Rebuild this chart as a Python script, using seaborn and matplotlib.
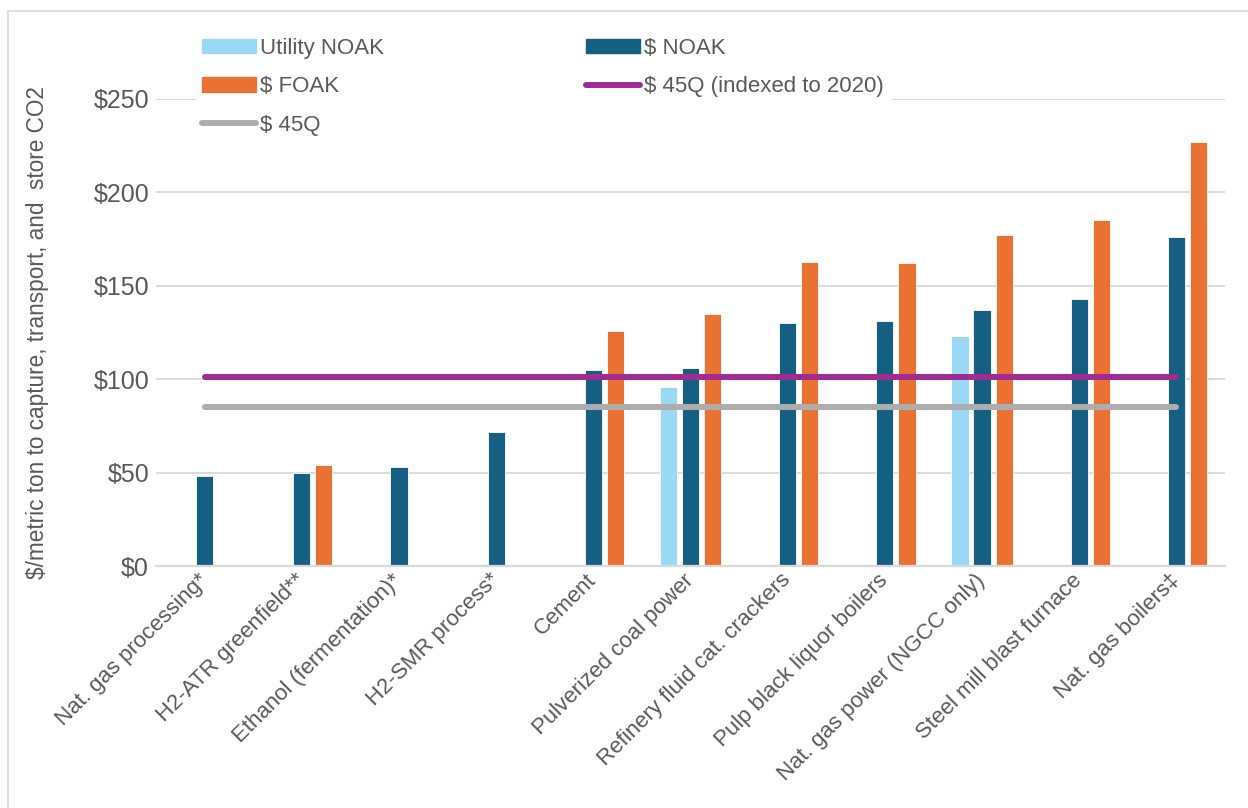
import numpy as np
import pandas as pd
import seaborn as sns
from matplotlib import pyplot as plt
from matplotlib.patches import Patch
from matplotlib.lines import Line2D

# --- data ---
categories = ["Nat. gas processing*", "H2-ATR greenfield**", "Ethanol (fermentation)*",
              "H2-SMR process*", "Cement", "Pulverized coal power",
              "Refinery fluid cat. crackers", "Pulp black liquor boilers",
              "Nat. gas power (NGCC only)", "Steel mill blast furnace", "Nat. gas boilers\u2021"]
utility_noak = [np.nan, np.nan, np.nan, np.nan, np.nan, 96, np.nan, np.nan, 123, np.nan, np.nan]
noak = [48, 50, 53, 72, 105, 106, 130, 131, 137, 143, 176]
foak = [np.nan, 54, np.nan, np.nan, 126, 135, 163, 162, 177, 185, 227]
q45 = 85
q45_indexed = 101

series = ["Utility NOAK", "$ NOAK", "$ FOAK"]
colors = {"Utility NOAK": "#99D9F5", "$ NOAK": "#156082", "$ FOAK": "#E97132"}
PURPLE = "#A02B93"
GREY = "#ADADAD"
TEXT = "#595959"
GRID = "#D9D9D9"

df = pd.DataFrame({"category": categories,
                   "Utility NOAK": utility_noak,
                   "$ NOAK": noak,
                   "$ FOAK": foak})
long_df = df.melt(id_vars="category", var_name="series", value_name="cost")

sns.set_theme(style="white")
plt.rcParams["font.family"] = ["Liberation Sans", "DejaVu Sans"]

fig = plt.figure(figsize=(12.48, 8.08), dpi=100)
ax = fig.add_axes([0.125, 0.2995, 0.8566, 0.578])

sns.barplot(data=long_df, x="category", y="cost", hue="series",
            order=categories, hue_order=series, palette=colors, saturation=1,
            width=0.68, gap=0.22, edgecolor="white", linewidth=0.6,
            legend=False, ax=ax, zorder=2)

# 45Q reference lines from the first to the last category
sns.lineplot(x=categories, y=[q45] * len(categories), color=GREY, lw=4.3,
             solid_capstyle="round", sort=False, legend=False, ax=ax, zorder=3)
sns.lineplot(x=categories, y=[q45_indexed] * len(categories), color=PURPLE, lw=4.3,
             solid_capstyle="round", sort=False, legend=False, ax=ax, zorder=3)

ax.set_xlim(-0.5, len(categories) - 0.5)
ax.set_ylim(0, 250)
ax.set_yticks([0, 50, 100, 150, 200, 250])
ax.set_yticklabels(["$0", "$50", "$100", "$150", "$200", "$250"])
ax.yaxis.grid(True, color=GRID, lw=1.3, zorder=0)
ax.set_axisbelow(True)
for side in ["top", "right", "left"]:
    ax.spines[side].set_visible(False)
ax.spines["bottom"].set_color(GRID)
ax.spines["bottom"].set_linewidth(1.6)
ax.tick_params(axis="both", length=0, colors=TEXT)
ax.tick_params(axis="y", pad=5, labelsize=18)
ax.tick_params(axis="x", pad=8, labelsize=16)
plt.setp(ax.get_xticklabels(), rotation=45, ha="right", va="center",
         rotation_mode="anchor")

ax.set_xlabel("")
ax.set_ylabel("$/metric ton to capture, transport, and  store CO2",
              fontsize=16.3, color=TEXT)
ax.yaxis.set_label_coords(-0.100, 0.5)

handles = [Patch(color=colors["Utility NOAK"]),
           Patch(color=colors["$ FOAK"]),
           Line2D([], [], color=GREY, lw=4.3, solid_capstyle="round"),
           Patch(color=colors["$ NOAK"]),
           Line2D([], [], color=PURPLE, lw=4.3, solid_capstyle="round")]
labels = ["Utility NOAK", "$ FOAK", "$ 45Q", "$ NOAK", "$ 45Q (indexed to 2020)"]
leg = fig.legend(handles, labels, ncol=2, loc="upper left",
                 bbox_to_anchor=(0.148, 0.975), fontsize=16,
                 frameon=True, fancybox=False, framealpha=1,
                 facecolor="white", edgecolor="white",
                 handlelength=2.4, handleheight=0.6, handletextpad=0.2,
                 columnspacing=9.1, labelspacing=0.78, borderpad=0.3)
for t in leg.get_texts():
    t.set_color(TEXT)

# chart-area border (left and top edges visible)
fig.add_artist(Line2D([0.0064, 0.0064], [0.0, 0.9864], color=GRID, lw=1.2))
fig.add_artist(Line2D([0.0064, 1.0], [0.9864, 0.9864], color=GRID, lw=1.2))

fig.savefig("out.png", dpi=100)
